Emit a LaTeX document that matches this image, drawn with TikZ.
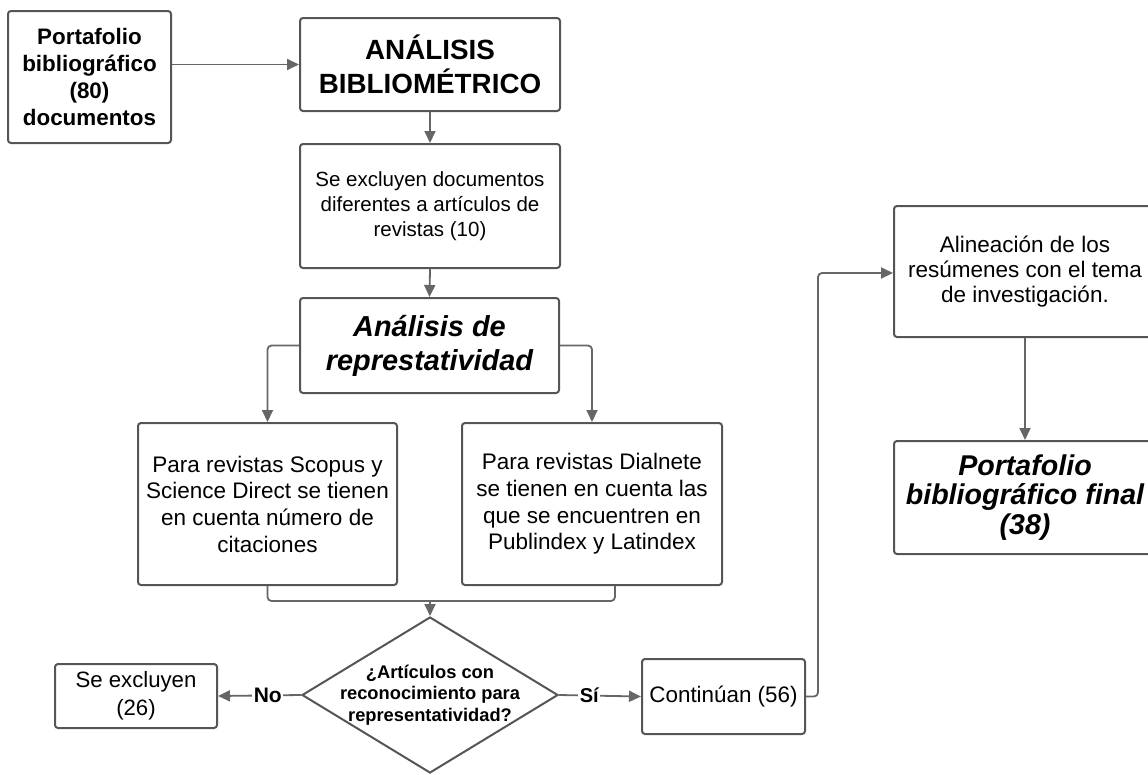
\documentclass[tikz,border=0pt]{standalone}
\usepackage{fontspec}
\setmainfont{Liberation Sans}
\usetikzlibrary{arrows.meta,shapes.geometric,calc}
\definecolor{bordercol}{HTML}{555555}
\definecolor{linecol}{HTML}{666666}
\newcommand\myfs[2]{\fontsize{#1pt}{#2pt}\selectfont}
\tikzset{
  box/.style={draw=bordercol, line width=2pt, rounded corners=3pt, inner sep=0pt, align=center, text=black},
  conn/.style={draw=linecol, line width=1.8pt, -{Triangle[length=12pt,width=11pt]}},
  plain/.style={draw=linecol, line width=1.8pt},
  lbl/.style={fill=white, inner sep=1.5pt, text=black},
}
\begin{document}
\begin{tikzpicture}[x=1pt,y=-1pt]
\useasboundingbox (0,0) rectangle (1148,774);

\node[box, minimum width=163pt, minimum height=132pt, font=\myfs{22.4}{26.7}\bfseries] (P) at (89.5,77) {Portafolio\\bibliográfico\\(80)\\documentos};
\node[box, minimum width=260pt, minimum height=93pt, font=\myfs{27.8}{33.5}\bfseries] (AB) at (430,64.5) {ANÁLISIS\\BIBLIOMÉTRICO};
\node[box, minimum width=260pt, minimum height=124pt, font=\myfs{20.5}{25}] (Excl) at (430,206) {Se excluyen documentos\\diferentes a artículos de\\revistas (10)};
\node[box, minimum width=259pt, minimum height=95pt, font=\myfs{28.9}{34}\bfseries\itshape] (AR) at (429.5,345.5) {Análisis de\\represtatividad};
\node[box, minimum width=259pt, minimum height=162pt, font=\myfs{22.5}{26.7}] (Scopus) at (267.5,504) {Para revistas Scopus y\\Science Direct se tienen\\en cuenta número de\\citaciones};
\node[box, minimum width=260pt, minimum height=162pt, font=\myfs{22.5}{26.7}] (Dial) at (592,504) {Para revistas Dialnete\\se tienen en cuenta las\\que se encuentren en\\Publindex y Latindex};
\node[diamond, draw=bordercol, line width=2pt, minimum width=256pt, minimum height=156pt, inner sep=0pt] (D) at (430,695) {};
\node[align=center, inner sep=0pt, font=\myfs{18.3}{21.7}\bfseries] (Dtext) at (D.center) {¿Artículos con\\reconocimiento para\\representatividad?};
\node[box, minimum width=162pt, minimum height=64pt, font=\myfs{22.2}{28}] (SE) at (136,696) {Se excluyen\\(26)};
\node[box, minimum width=163pt, minimum height=75pt, font=\myfs{22.4}{27}] (Cont) at (723.5,696.5) {Continúan (56)};
\node[box, minimum width=262pt, minimum height=131pt, font=\myfs{22.5}{25}] (Alin) at (1025,271.5) {Alineación de los\\resúmenes con el tema\\de investigación.};
\node[box, minimum width=262pt, minimum height=113pt, font=\myfs{28.6}{29.5}\bfseries\itshape] (Final) at (1025,497.5) {Portafolio\\bibliográfico final\\(38)};

\coordinate (M) at (430,601);
\coordinate (R) at (818,273);

\draw[conn] (P.east |- AB.west) -- (AB.west);
\draw[conn] (AB.south) -- (Excl.north);
\draw[conn] (Excl.south) -- (AR.north);
\draw[conn, rounded corners=4pt] (AR.west) -| (Scopus.north);
\draw[conn, rounded corners=4pt] (AR.east) -| (Dial.north);
\draw[plain, rounded corners=4pt] (Scopus.south) |- (M) -| ($(Dial.south)+(23,0)$);
\draw[conn] (M) -- (D.north);
\draw[conn] (D.west) -- node[lbl, pos=0.4, font=\myfs{21}{21}\bfseries]{No} (SE.east);
\draw[conn] (D.east) -- node[lbl, pos=0.37, font=\myfs{20}{20}\bfseries]{Sí} (Cont.west);
\draw[conn, rounded corners=4pt] (Cont.east) -| (R) -- (Alin.west |- R);
\draw[conn] (Alin.south) -- (Final.north);
\end{tikzpicture}
\end{document}
